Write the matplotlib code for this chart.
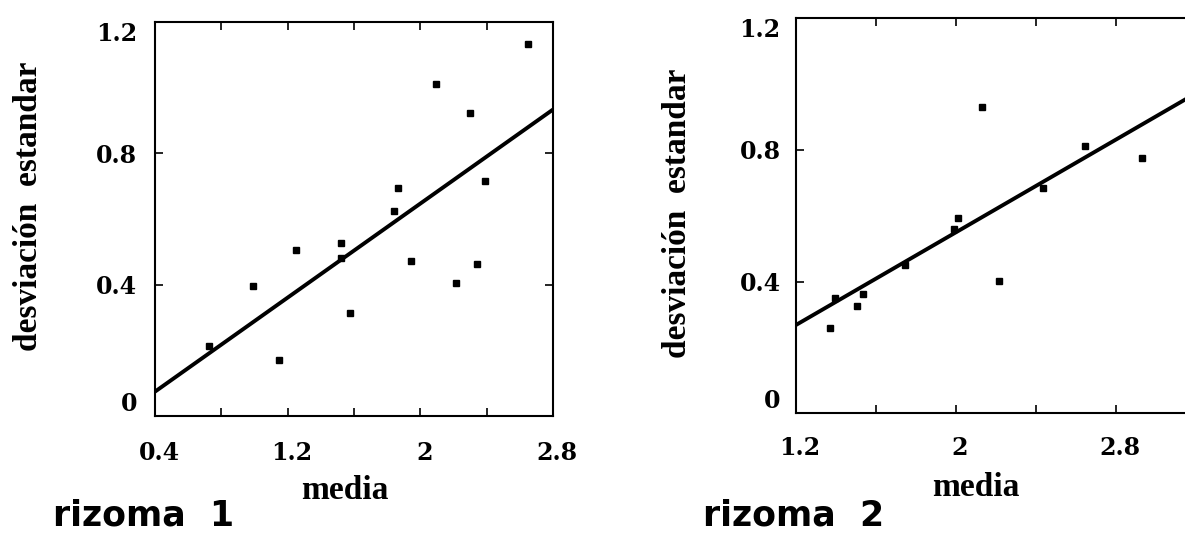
import matplotlib
matplotlib.use("Agg")
import matplotlib.pyplot as plt
import matplotlib.transforms as mtransforms
import numpy as np

# ---- data: rizoma 1 ----
r1_media = [2.649, 2.097, 2.298, 2.388, 1.866, 1.840, 1.520, 1.520, 1.253, 1.946,
            2.344, 2.213, 0.992, 1.575, 0.727, 1.147]
r1_desv = [1.133, 1.011, 0.924, 0.716, 0.695, 0.624, 0.527, 0.481, 0.505, 0.473,
           0.463, 0.405, 0.397, 0.313, 0.212, 0.171]
r1_fit = [-0.069, 0.358]   # intercept, slope

# ---- data: rizoma 2 ----
r2_media = [1.395, 1.370, 1.503, 1.533, 1.745, 2.012, 1.990, 2.128, 2.215, 2.437,
            2.645, 2.932]
r2_desv = [0.351, 0.260, 0.326, 0.361, 0.450, 0.592, 0.560, 0.930, 0.402, 0.685,
           0.812, 0.776]
r2_fit = [-0.154, 0.352]

r1_xticks = [0.4, 0.8, 1.2, 1.6, 2.0, 2.4, 2.8]
r1_xlabels = ["0.4", "", "1.2", "", "2", "", "2.8"]
r2_xticks = [1.2, 1.6, 2.0, 2.4, 2.8, 3.2]
r2_xlabels = ["1.2", "", "2", "", "2.8", ""]
yticks = [0, 0.4, 0.8, 1.2]
ylabels = ["0", "0.4", "0.8", "1.2"]

W, H = 1185, 534
fig = plt.figure(figsize=(W / 100, H / 100), dpi=100)

serif = "DejaVu Serif"
label_serif = "Liberation Serif"
tick_fs = 17
lab_fs = 24


def setup(ax, xlim, xticks, xlabels, xpad, ypad):
    ax.set_xlim(*xlim)
    ax.set_ylim(0, 1.2)
    ax.set_xticks(xticks)
    ax.set_xticklabels(xlabels)
    ax.set_yticks(yticks)
    ax.set_yticklabels(ylabels)
    ax.tick_params(axis="both", direction="in", length=6, width=1.2,
                   top=True, right=True, labelsize=tick_fs)
    ax.tick_params(axis="x", pad=xpad)
    ax.tick_params(axis="y", pad=ypad)
    shift = mtransforms.ScaledTranslation(4 / 100, 0, fig.dpi_scale_trans)
    for lbl in ax.get_xticklabels():
        lbl.set_transform(lbl.get_transform() + shift)
    for lbl in ax.get_xticklabels() + ax.get_yticklabels():
        lbl.set_fontfamily(serif)
        lbl.set_fontweight("bold")
    ylbls = ax.get_yticklabels()
    ylbls[0].set_verticalalignment("bottom")
    ylbls[-1].set_verticalalignment("top")
    for s in ax.spines.values():
        s.set_linewidth(1.5)
        s.set_color("black")


def panel(ax, xs, ys, fit, xlim):
    ax.plot(xs, ys, linestyle="none", marker="s", markersize=4.5,
            color="black")
    xl = np.array(xlim)
    ax.plot(xl, fit[0] + fit[1] * xl, color="black", linewidth=2.8,
            solid_capstyle="butt")


# left panel
ax1 = fig.add_axes([155 / W, (H - 416) / H, 398 / W, 394 / H])
setup(ax1, (0.4, 2.8), r1_xticks, r1_xlabels, 18, 13)
panel(ax1, r1_media, r1_desv, r1_fit, (0.4, 2.8))
ax1.text(-0.318, 0.533, "desviación  estandar", transform=ax1.transAxes,
         rotation=90, ha="center", va="center", fontsize=lab_fs,
         fontfamily=label_serif, fontweight="bold")
ax1.text(0.477, -0.188, "media", transform=ax1.transAxes, ha="center",
         va="center", fontsize=lab_fs, fontfamily=label_serif, fontweight="bold")

# right panel
ax2 = fig.add_axes([796 / W, (H - 413.3) / H, 400 / W, 395 / H])
setup(ax2, (1.2, 3.2), r2_xticks, r2_xlabels, 16.5, 11)
panel(ax2, r2_media, r2_desv, r2_fit, (1.2, 3.2))
ax2.text(-0.297, 0.507, "desviación  estandar", transform=ax2.transAxes,
         rotation=90, ha="center", va="center", fontsize=lab_fs,
         fontfamily=label_serif, fontweight="bold")
ax2.text(0.45, -0.189, "media", transform=ax2.transAxes, ha="center",
         va="center", fontsize=lab_fs, fontfamily=label_serif, fontweight="bold")

fig.text(53 / W, 1 / H, "rizoma  1", ha="left", va="bottom",
         fontsize=25, fontfamily="DejaVu Sans", fontweight="bold")
fig.text(703 / W, 1 / H, "rizoma  2", ha="left", va="bottom",
         fontsize=25, fontfamily="DejaVu Sans", fontweight="bold")

fig.savefig("out.png", dpi=100)
